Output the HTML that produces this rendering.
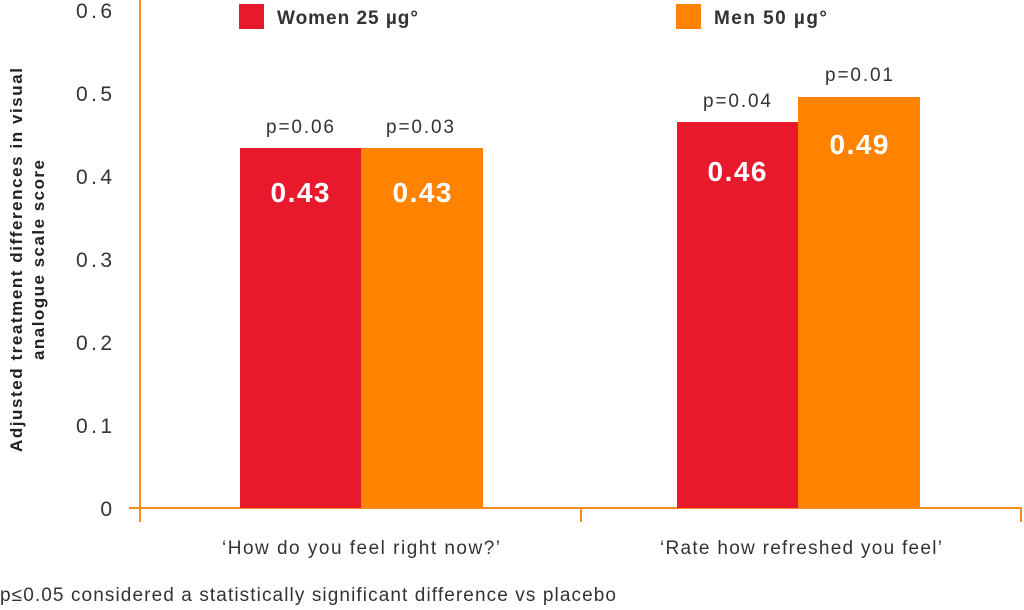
<!DOCTYPE html>
<html><head><meta charset="utf-8"><style>body{margin:0;background:#fff}svg{display:block}text{font-family:"Liberation Sans",sans-serif}</style></head><body>
<svg width="1024" height="610" viewBox="0 0 1024 610">
<g stroke="#f58a1f" stroke-width="2" fill="none">
<line x1="140" y1="0" x2="140" y2="522"/>
<line x1="129" y1="508" x2="1022" y2="508"/>
<line x1="581" y1="508" x2="581" y2="522"/>
<line x1="1021" y1="508" x2="1021" y2="522"/>
</g>
<g fill="#333" font-size="21" text-anchor="end">
<text x="112" y="516">0</text><text x="112" y="433" textLength="36">0.1</text><text x="112" y="350" textLength="36">0.2</text><text x="112" y="267" textLength="36">0.3</text><text x="112" y="184" textLength="36">0.4</text><text x="112" y="101" textLength="36">0.5</text><text x="112" y="18" textLength="36">0.6</text>
</g>
<text transform="translate(22,260) rotate(-90)" text-anchor="middle" font-size="17" font-weight="bold" fill="#222" textLength="384">Adjusted treatment differences in visual</text>
<text transform="translate(44,260) rotate(-90)" text-anchor="middle" font-size="17" font-weight="bold" fill="#222" textLength="200">analogue scale score</text>
<rect x="240" y="148" width="121" height="360" fill="#e8192d"/>
<rect x="361" y="148" width="122" height="360" fill="#ff8200"/>
<rect x="677" y="122" width="121" height="386" fill="#e8192d"/>
<rect x="798" y="97" width="122" height="411" fill="#ff8200"/>
<g fill="#fff" font-size="28" font-weight="bold" text-anchor="middle">
<text x="300" y="202" textLength="59">0.43</text><text x="422" y="202" textLength="59">0.43</text><text x="737" y="181" textLength="59">0.46</text><text x="859" y="154" textLength="59">0.49</text>
</g>
<g fill="#333" font-size="19" text-anchor="middle">
<text x="300" y="133" textLength="68">p=0.06</text><text x="420" y="133" textLength="68">p=0.03</text><text x="737" y="107" textLength="68">p=0.04</text><text x="859" y="81" textLength="68">p=0.01</text>
</g>
<rect x="239" y="4" width="25" height="25" fill="#e8192d"/>
<text x="277" y="24" font-size="19" font-weight="bold" fill="#333" textLength="141">Women 25 µg°</text>
<rect x="676" y="4" width="25" height="25" fill="#ff8200"/>
<text x="714" y="24" font-size="19" font-weight="bold" fill="#333" textLength="113">Men 50 µg°</text>
<g fill="#333" font-size="19" text-anchor="middle">
<text x="361" y="554" textLength="278">‘How do you feel right now?’</text>
<text x="801" y="554" textLength="282">‘Rate how refreshed you feel’</text>
</g>
<text x="0" y="601" font-size="19" fill="#333" textLength="616">p≤0.05 considered a statistically significant difference vs placebo</text>
</svg>
</body></html>
